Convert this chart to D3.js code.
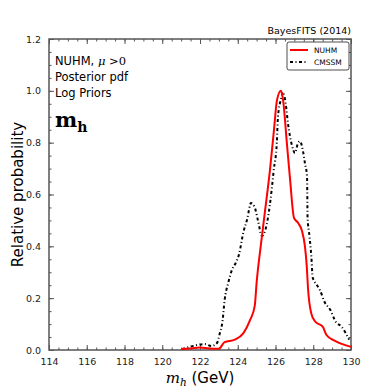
<!DOCTYPE html>
<html>
<head>
<meta charset="utf-8">
<script src="https://cdn.jsdelivr.net/npm/d3@7"></script>
<style>
  body { margin: 0; background: #fff; }
  text { font-family: "DejaVu Sans", sans-serif; }
</style>
</head>
<body>
<div id="chart-area"></div>
<script>
// data
var nuhmMass = [121.0, 121.5, 122.0, 122.5, 123.0, 123.3, 123.85, 124.3, 124.65, 124.9, 125.0, 125.25, 125.4, 125.7, 125.92, 126.08, 126.29, 126.4, 126.6, 126.77, 126.98, 127.2, 127.4, 127.56, 127.66, 127.72, 127.9, 128.1, 128.5, 128.7, 129.15, 130.0];
var nuhmProb = [0.004, 0.006, 0.01, 0.006, 0.005, 0.03, 0.04, 0.065, 0.115, 0.17, 0.26, 0.42, 0.51, 0.69, 0.85, 0.965, 1.0, 0.965, 0.8, 0.66, 0.51, 0.49, 0.46, 0.4, 0.32, 0.24, 0.14, 0.11, 0.09, 0.058, 0.035, 0.012];

var cmssmMass = [121.05, 121.6, 122.25, 122.6, 122.9, 123.05, 123.2, 123.3, 123.5, 123.7, 123.85, 124.07, 124.3, 124.5, 124.7, 124.9, 125.07, 125.28, 125.45, 125.6, 125.8, 125.9, 126.07, 126.13, 126.3, 126.4, 126.55, 126.66, 126.87, 127.03, 127.2, 127.3, 127.45, 127.56, 127.67, 127.7, 127.8, 127.9, 127.97, 128.2, 128.36, 128.6, 128.9, 129.2, 129.5, 129.9];
var cmssmProb = [0.003, 0.015, 0.023, 0.015, 0.027, 0.065, 0.115, 0.19, 0.26, 0.31, 0.33, 0.37, 0.455, 0.505, 0.567, 0.55, 0.5, 0.44, 0.46, 0.51, 0.62, 0.69, 0.8, 0.9, 0.97, 0.995, 0.945, 0.875, 0.79, 0.76, 0.8, 0.805, 0.77, 0.72, 0.67, 0.51, 0.44, 0.36, 0.28, 0.25, 0.23, 0.185, 0.155, 0.108, 0.09, 0.04];

var xTicks = [114, 116, 118, 120, 122, 124, 126, 128, 130];
var yTicks = [0.0, 0.2, 0.4, 0.6, 0.8, 1.0, 1.2];
var seriesNames = ["NUHM", "CMSSM"];
var infoLines = ["Posterior pdf", "Log Priors"];

var margin = { left: 49, right: 39, top: 39, bottom: 40 };
var width = 390 - margin.left - margin.right,
    height = 390 - margin.top - margin.bottom;

var svg = d3.select("#chart-area")
  .append("svg")
    .attr("width", 390)
    .attr("height", 390);

var g = svg.append("g")
    .attr("transform", "translate(" + margin.left + "," + margin.top + ")");

var x = d3.scaleLinear().domain([114, 130]).range([0, width]);
var y = d3.scaleLinear().domain([0, 1.2]).range([height, 0]);

var axisColor = "#555";

// minor + major ticks, pointing inward on all four sides
function addAxis(axis, tr) {
  var a = g.append("g").attr("transform", tr).call(axis);
  a.select(".domain").remove();
  a.selectAll("line").attr("stroke", axisColor);
  return a;
}
var xMinor = d3.range(114, 130.01, 0.5);
var yMinor = d3.range(0, 1.201, 0.05);

addAxis(d3.axisBottom(x).tickValues(xMinor).tickSize(-2.5).tickFormat(""), "translate(0," + height + ")");
addAxis(d3.axisTop(x).tickValues(xMinor).tickSize(-2.5).tickFormat(""), "translate(0,0)");
addAxis(d3.axisLeft(y).tickValues(yMinor).tickSize(-2.5).tickFormat(""), "translate(0,0)");
addAxis(d3.axisRight(y).tickValues(yMinor).tickSize(-2.5).tickFormat(""), "translate(" + width + ",0)");

var xb = addAxis(d3.axisBottom(x).tickValues(xTicks).tickSize(-5).tickPadding(8).tickFormat(d3.format("d")), "translate(0," + height + ")");
addAxis(d3.axisTop(x).tickValues(xTicks).tickSize(-5).tickFormat(""), "translate(0,0)");
var yl = addAxis(d3.axisLeft(y).tickValues(yTicks).tickSize(-5).tickPadding(8).tickFormat(d3.format(".1f")), "translate(0,0)");
addAxis(d3.axisRight(y).tickValues(yTicks).tickSize(-5).tickFormat(""), "translate(" + width + ",0)");

xb.selectAll("text").attr("font-size", "9.5px").attr("fill", "#222").attr("font-family", "DejaVu Sans");
yl.selectAll("text").attr("font-size", "9.5px").attr("fill", "#222").attr("font-family", "DejaVu Sans");

// frame
g.append("rect")
  .attr("width", width)
  .attr("height", height)
  .attr("fill", "none")
  .attr("stroke", axisColor)
  .attr("stroke-width", 1.5);

var line = d3.line()
  .x(function(d) { return x(d[0]); })
  .y(function(d) { return y(d[1]); })
  .curve(d3.curveMonotoneX);

var cmssm = cmssmMass.map(function(m, i) { return [m, cmssmProb[i]]; });
var nuhm = nuhmMass.map(function(m, i) { return [m, nuhmProb[i]]; });

g.append("path")
  .datum(cmssm)
  .attr("d", line)
  .attr("fill", "none")
  .attr("stroke", "black")
  .attr("stroke-width", 2)
  .attr("stroke-dasharray", "3,2.5,1,2.5");

g.append("path")
  .datum(nuhm)
  .attr("d", line)
  .attr("fill", "none")
  .attr("stroke", "red")
  .attr("stroke-width", 2);

// legend
var legend = g.append("g").attr("transform", "translate(" + (width - 64) + ",3)");
legend.append("rect")
  .attr("width", 62).attr("height", 28).attr("rx", 2)
  .attr("fill", "white").attr("stroke", "#222").attr("stroke-width", 0.8);
seriesNames.forEach(function(name, i) {
  var row = legend.append("g").attr("transform", "translate(0," + (8 + i * 12) + ")");
  row.append("line")
    .attr("x1", 3).attr("x2", 21)
    .attr("stroke", i === 0 ? "red" : "black")
    .attr("stroke-width", 2)
    .attr("stroke-dasharray", i === 0 ? null : "3,2.5,1,2.5");
  row.append("text")
    .attr("x", 27).attr("y", 3)
    .attr("font-size", "7.5px")
    .text(name);
});

// top title
g.append("text")
  .attr("x", width)
  .attr("y", -5)
  .attr("text-anchor", "end")
  .attr("font-size", "9.5px")
  .text("BayesFITS (2014)");

// info text
var info = g.append("text").attr("x", 6).attr("y", 26).attr("font-size", "11.5px");
info.append("tspan").text("NUHM, ");
info.append("tspan").attr("font-family", "DejaVu Serif").attr("font-style", "italic").text("μ");
info.append("tspan").attr("font-family", "DejaVu Serif").text(" >0");
infoLines.forEach(function(t, i) {
  g.append("text").attr("x", 6).attr("y", 42 + i * 15.5).attr("font-size", "11.5px").text(t);
});

var mh = g.append("text").attr("x", 6).attr("y", 88)
  .attr("font-family", "DejaVu Serif").attr("font-weight", "bold").attr("font-size", "21px");
mh.append("tspan").attr("font-family", "DejaVu Serif").text("m");
mh.append("tspan").attr("font-family", "DejaVu Serif").attr("font-size", "14px").attr("dy", 5).text("h");

// axis labels
var xl = svg.append("text")
  .attr("x", margin.left + width / 2)
  .attr("y", 383)
  .attr("text-anchor", "middle")
  .attr("font-size", "15px");
xl.append("tspan").attr("font-family", "DejaVu Serif").attr("font-style", "italic").text("m");
xl.append("tspan").attr("font-family", "DejaVu Serif").attr("font-style", "italic").attr("font-size", "10.5px").attr("dy", 3).text("h");
xl.append("tspan").attr("dy", -3).text(" (GeV)");

svg.append("text")
  .attr("transform", "translate(23," + (margin.top + height / 2) + ") rotate(-90)")
  .attr("text-anchor", "middle")
  .attr("font-size", "15px")
  .text("Relative probability");
</script>
</body>
</html>
